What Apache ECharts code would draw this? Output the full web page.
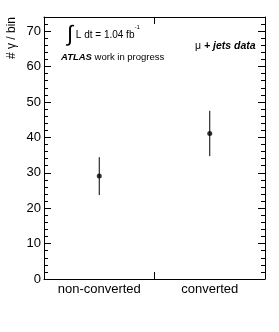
<!DOCTYPE html>
<html><head><meta charset="utf-8">
<script src="https://cdn.jsdelivr.net/npm/echarts@6/dist/echarts.min.js"></script>
<style>html,body{margin:0;padding:0;background:#fff}#c{width:279px;height:332px}</style>
</head><body><div id="c"></div>
<script>
var categories = ['non-converted', 'converted'];
var values = [29.1, 41.1];
var errLow = [23.7, 34.7];
var errHigh = [34.4, 47.5];
var yTicks = [0, 10, 20, 30, 40, 50, 60, 70];

var F = 'Liberation Sans, Arial, Helvetica, sans-serif';
var chart = echarts.init(document.getElementById('c'));
var axisLine = {show: true, onZero: false, lineStyle: {color: '#000', width: 1}};
chart.setOption({
  animation: false,
  grid: {left: 44, right: 14, top: 17, bottom: 53},
  xAxis: [{
    type: 'category', data: categories, position: 'bottom',
    axisLine: axisLine,
    axisTick: {show: true, inside: true, length: 7, lineStyle: {color: '#000'}},
    axisLabel: {color: '#000', fontSize: 13, fontFamily: F, margin: 4},
    splitLine: {show: false}
  }, {
    type: 'category', data: categories, position: 'top',
    axisLine: axisLine,
    axisTick: {show: true, inside: false, length: -7, lineStyle: {color: '#000'}},
    axisLabel: {show: false},
    splitLine: {show: false}
  }],
  yAxis: [{
    type: 'value', min: 0, max: 74, interval: 10, position: 'left',
    axisLine: axisLine,
    axisTick: {show: true, inside: true, length: 7, lineStyle: {color: '#000'}},
    minorTick: {show: true, splitNumber: 5, length: 4, lineStyle: {color: '#000'}},
    axisLabel: {color: '#000', fontSize: 13, fontFamily: F, margin: 3, showMaxLabel: false,
      formatter: function (v) { return yTicks.indexOf(v) >= 0 ? String(v) : ''; }},
    splitLine: {show: false}
  }, {
    type: 'value', min: 0, max: 74, interval: 10, position: 'right',
    axisLine: axisLine,
    axisTick: {show: true, inside: true, length: 7, lineStyle: {color: '#000'}},
    minorTick: {show: true, splitNumber: 5, length: 4, lineStyle: {color: '#000'}},
    axisLabel: {show: false},
    splitLine: {show: false}
  }],
  series: [{
    type: 'custom',
    xAxisIndex: 0, yAxisIndex: 0,
    data: categories.map(function (c, i) { return [i, errLow[i], errHigh[i]]; }),
    renderItem: function (params, api) {
      var p1 = api.coord([api.value(0), api.value(1)]);
      var p2 = api.coord([api.value(0), api.value(2)]);
      return {type: 'line', shape: {x1: p1[0], y1: p1[1], x2: p2[0], y2: p2[1]},
        style: {stroke: '#000', lineWidth: 1}};
    },
    z: 2
  }, {
    type: 'scatter',
    xAxisIndex: 0, yAxisIndex: 0,
    data: values.map(function (v, i) { return [i, v]; }),
    symbol: 'circle', symbolSize: 5,
    itemStyle: {color: '#000'},
    z: 3
  }],
  graphic: [{
    type: 'text', x: 12, y: 17, rotation: Math.PI / 2,
    style: {text: '# γ / bin', font: '12px ' + F, fill: '#000', textAlign: 'right', textVerticalAlign: 'middle'}
  }, {
    type: 'text', x: 67, y: 35,
    style: {
      text: '{i|∫}{t| L dt = 1.04 fb}{s|-1}',
      textVerticalAlign: 'middle',
      rich: {
        i: {font: '22px ' + F, fill: '#000', verticalAlign: 'middle'},
        t: {font: '10px ' + F, fill: '#000', verticalAlign: 'middle'},
        s: {font: '6px ' + F, fill: '#000', verticalAlign: 'top', padding: [0, 0, 6, 0]}
      }
    }
  }, {
    type: 'text', x: 61, y: 57,
    style: {
      text: '{b|ATLAS}{r| work in progress}',
      textVerticalAlign: 'middle',
      rich: {
        b: {font: 'italic bold 9.5px ' + F, fill: '#000'},
        r: {font: '9.5px ' + F, fill: '#000'}
      }
    }
  }, {
    type: 'text', x: 195, y: 46,
    style: {
      text: '{r|μ }{b|+ jets data}',
      textVerticalAlign: 'middle',
      rich: {
        r: {font: '10.5px ' + F, fill: '#000'},
        b: {font: 'italic bold 10.5px ' + F, fill: '#000'}
      }
    }
  }]
});
</script></body></html>
